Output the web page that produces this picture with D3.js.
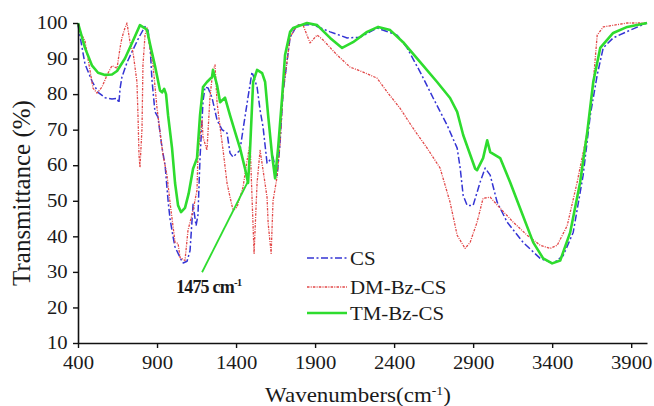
<!DOCTYPE html>
<html>
<head>
<meta charset="utf-8">
<script src="https://cdn.jsdelivr.net/npm/d3@7"></script>
<style>
  html, body { margin: 0; padding: 0; background: #fff; }
  svg { display: block; }
  text { font-family: "Liberation Serif", "Times New Roman", serif; fill: #1a1a1a; }
</style>
</head>
<body>
<svg id="chart" width="654" height="406"></svg>
<script>
// ---- Data ----
const xTickValues = [400, 900, 1400, 1900, 2400, 2900, 3400, 3900];
const yTickValues = [10, 20, 30, 40, 50, 60, 70, 80, 90, 100];
const seriesNames = ["CS", "DM-Bz-CS", "TM-Bz-CS"];

const csWn = [400,444,489,527,571,615,647,659,666,678,711,748,786,824,843,856,868,887,906,932,951,970,982,1001,1014,1046,1065,1090,1109,1128,1147,1159,1172,1191,1204,1223,1248,1280,1311,1343,1362,1381,1425,1444,1476,1501,1533,1552,1571,1596,1634,1659,1678,1697,1742,1786,1887,1995,2103,2185,2292,2419,2482,2565,2647,2735,2799,2818,2837,2862,2900,2944,2976,3008,3052,3115,3216,3324,3406,3470,3533,3596,3641,3685,3723,3786,3894,4000];
const csT  = [99.5,88.5,83.6,80.5,79,78.6,78.8,77.5,81.5,84.8,89,92.5,96,99,98,93.5,84,75,73.5,64.8,60,50,45,40,37,34,32.5,33,36,49,43,46,62,78,82,81.7,79,72.7,70,69,63.4,62.3,64.2,70,79.2,86.2,82,75.5,70.7,60.6,62.3,56.6,66,80.3,96,99.4,99.5,97.5,95.8,96,98.6,96.6,93,86.2,78.9,71.3,64.8,59.2,51.5,48.7,48.7,55.2,59.2,57.2,49.6,44,38.3,33.8,32.4,34.6,41.1,57.2,74,85.4,93,95.8,98,100];

const dmWn = [400,420,444,463,495,520,552,584,615,647,666,678,697,710,729,748,773,780,786,792,805,811,824,837,843,875,900,919,938,963,982,1014,1033,1046,1077,1096,1128,1153,1159,1185,1191,1216,1235,1254,1267,1280,1299,1318,1343,1362,1381,1406,1425,1444,1470,1489,1501,1514,1533,1552,1571,1596,1603,1622,1634,1659,1678,1697,1742,1786,1824,1868,1913,1951,2039,2121,2204,2292,2356,2438,2520,2609,2691,2754,2799,2849,2881,2925,2963,3008,3071,3153,3242,3324,3387,3432,3495,3558,3622,3660,3685,3723,3875,4000];
const dmT  = [99.5,97,95,90,81.7,80.3,82,85.4,88,87.3,93,95.8,98.6,100,94.6,91.8,83.4,73.2,62.8,59.4,70.4,88.2,96.6,98.6,96,88,76,69.3,62.8,57.2,49.6,38.3,38,34,33.2,41.7,47.3,53,63.4,72.7,67.9,64.2,79.2,86.8,88.2,77.5,70.7,64.2,54.9,51,47.3,48.2,51,53.8,61.4,66.2,51,35.2,55,64.2,58.6,51,43.7,35.2,50,56.6,66,80.3,96,99.4,99.4,94.4,96.6,95.2,91,87.6,86.2,84.5,80.6,76,70.4,64.8,59.2,49.6,40.3,36.6,38.3,44,50.7,51,47.9,44,40.3,37.5,36.6,37.5,43,55.2,69.3,83.4,96.6,98.9,100,100];

const tmWn = [400,444,489,527,571,615,647,697,748,792,824,837,856,887,919,932,945,957,970,995,1014,1033,1052,1077,1100,1128,1153,1172,1191,1216,1248,1254,1280,1299,1330,1362,1394,1425,1457,1476,1489,1508,1533,1565,1584,1603,1628,1647,1666,1691,1710,1742,1761,1849,1913,1995,2071,2140,2229,2299,2375,2457,2565,2672,2754,2799,2837,2913,2925,2963,2989,3008,3071,3134,3197,3280,3343,3400,3451,3514,3577,3622,3660,3704,3786,3875,4000];
const tmT  = [100,93,88,86,85.4,85.5,86.5,90,95,99.4,98.5,98,94,88,81,80.5,81.5,80,74,64.8,55,48.7,46.8,48,52,59,62,74,82,83.4,84.8,86.8,82.5,77.7,79,74,69.3,64.8,59,55,64.8,83.4,86.8,85.9,83.4,74,62.8,56.3,64.8,78.9,91,97.5,98.6,100,99.4,95.8,93,94.6,97.5,98.9,98,94.6,89,83.4,78.9,75,68.5,59,58.6,62,67,63.7,62,55.2,47.9,38.3,33.8,32.4,33.2,41.1,55.2,69.3,83.4,93,97.2,98.9,100];

// annotation: arrow pointing at 1475 cm-1 on TM-Bz-CS
const annoFrom = [1185, 29.9];
const annoTo = [1476, 55.5];

// ---- Layout ----
const svg = d3.select("#chart");
const mLeft = 78, mRight = 647, mTop = 23, mBottom = 343;
const x = d3.scaleLinear().domain([400, 4000]).range([mLeft, mRight]);
const y = d3.scaleLinear().domain([10, 100]).range([mBottom, mTop]);

const series = [
  { name: seriesNames[0], wn: csWn, t: csT, color: "#3434d4", width: 1.5, dash: "7,2.5,2,2.5" },
  { name: seriesNames[1], wn: dmWn, t: dmT, color: "#e24848", width: 1.3, dash: "2.5,1.2,1,1.2" },
  { name: seriesNames[2], wn: tmWn, t: tmT, color: "#2edc2e", width: 2.6, dash: null }
];

const line = d3.line().x(d => x(d[0])).y(d => y(d[1]));

const gLines = svg.append("g");
series.forEach(s => {
  const pts = s.wn.map((w, i) => [w, s.t[i]]);
  gLines.append("path")
    .datum(pts)
    .attr("d", line)
    .attr("fill", "none")
    .attr("stroke", s.color)
    .attr("stroke-width", s.width)
    .attr("stroke-linejoin", "round")
    .attr("stroke-dasharray", s.dash);
});

// Axes
const xAxis = d3.axisBottom(x).tickValues(xTickValues).tickFormat(d3.format("d"))
  .tickSizeInner(5).tickSizeOuter(0).tickPadding(8);
const yAxis = d3.axisLeft(y).tickValues(yTickValues).tickFormat(d3.format("d"))
  .tickSizeInner(5).tickSizeOuter(0).tickPadding(4);

const gx = svg.append("g").attr("transform", `translate(0,${mBottom})`).call(xAxis);
const gy = svg.append("g").attr("transform", `translate(${mLeft},0)`).call(yAxis);
[gx, gy].forEach(g => {
  g.select(".domain").attr("stroke", "#111").attr("stroke-width", 1.6);
  g.selectAll(".tick line").attr("stroke", "#111").attr("stroke-width", 1.4);
  g.selectAll(".tick text")
    .attr("font-family", "Liberation Serif, Times New Roman, serif")
    .attr("font-size", 18)
    .attr("fill", "#222")
    .attr("transform", "scale(1.15,1)");
});

// Axis titles
const xt = svg.append("text")
  .attr("transform", `translate(358,402) scale(1.15,1)`)
  .attr("text-anchor", "middle")
  .attr("font-size", 20);
xt.append("tspan").text("Wavenumbers(cm");
xt.append("tspan").attr("dy", -7).attr("font-size", 12).text("-1");
xt.append("tspan").attr("dy", 7).text(")");

svg.append("text")
  .attr("transform", "translate(30,193) rotate(-90)")
  .attr("text-anchor", "middle")
  .attr("font-size", 25)
  .text("Transmittance (%)");

// Legend
const legendY = [258, 287, 313];
series.forEach((s, i) => {
  svg.append("line")
    .attr("x1", 307).attr("x2", 347)
    .attr("y1", legendY[i]).attr("y2", legendY[i])
    .attr("stroke", s.color)
    .attr("stroke-width", s.width)
    .attr("stroke-dasharray", s.dash);
  svg.append("text")
    .attr("transform", `translate(350,${legendY[i] + 6.5}) scale(1.1,1)`)
    .attr("font-size", 19)
    .text(s.name);
});

// Annotation
svg.append("line")
  .attr("x1", x(annoFrom[0])).attr("y1", y(annoFrom[1]))
  .attr("x2", x(annoTo[0])).attr("y2", y(annoTo[1]))
  .attr("stroke", "#2edc2e").attr("stroke-width", 1.8);
const at = svg.append("text")
  .attr("x", 176).attr("y", 293)
  .attr("font-size", 18)
  .attr("font-weight", "bold")
  .attr("letter-spacing", -0.8);
at.append("tspan").text("1475 cm");
at.append("tspan").attr("dy", -7).attr("font-size", 11).text("-1");
</script>
</body>
</html>
